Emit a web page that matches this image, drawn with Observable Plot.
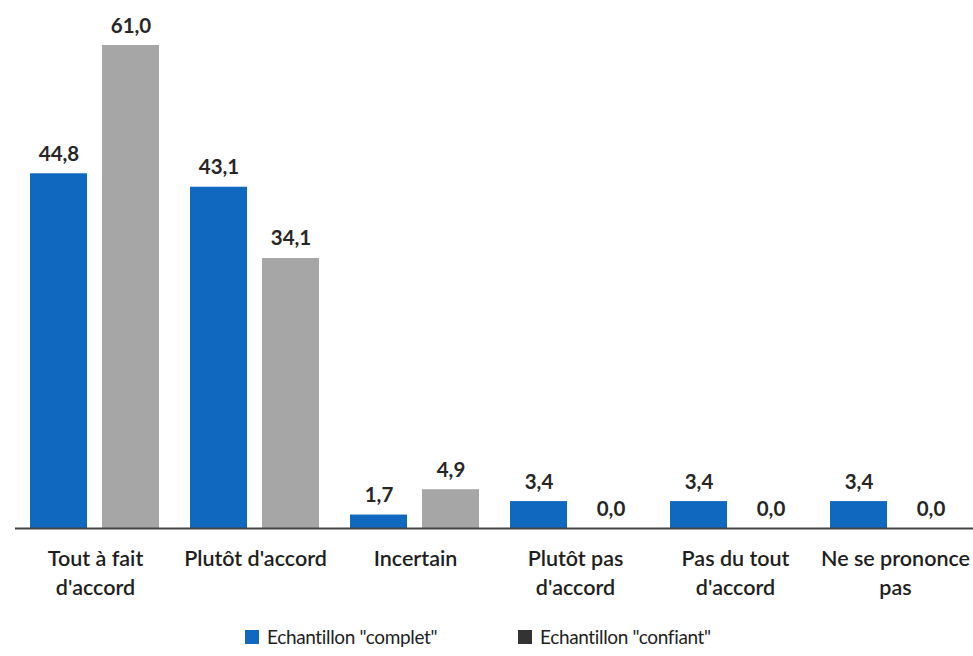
<!DOCTYPE html>
<html>
<head>
<meta charset="utf-8">
<script src="https://cdn.jsdelivr.net/npm/d3@7"></script>
<script src="https://cdn.jsdelivr.net/npm/@observablehq/plot@0.6"></script>
<style>
  html, body { margin: 0; padding: 0; background: #fff; overflow: hidden; }
  #chart { position: relative; width: 973px; height: 656px; font-family: Lato, "Open Sans", sans-serif; }
  .legend { position: absolute; top: 626px; left: 245px; font-size: 19px; letter-spacing: -0.35px; color: #1e1e1e; line-height: 22px; }
  .legend span.item { position: absolute; display: inline-flex; align-items: center; white-space: nowrap; }
  .legend i { display: inline-block; width: 14px; height: 14px; margin-right: 8px; }
</style>
</head>
<body>
<div id="chart"></div>
<script>
// Réponses par catégorie, en pourcentage
const categories = ["Tout à fait d'accord", "Plutôt d'accord", "Incertain", "Plutôt pas d'accord", "Pas du tout d'accord", "Ne se prononce pas"];
const categoryLabels = ["Tout à fait\nd'accord", "Plutôt d'accord", "Incertain", "Plutôt pas\nd'accord", "Pas du tout\nd'accord", "Ne se prononce\npas"];
const series = ["Echantillon \"complet\"", "Echantillon \"confiant\""];
const complet = [44.8, 43.1, 1.7, 3.4, 3.4, 3.4];
const confiant = [61.0, 34.1, 4.9, 0.0, 0.0, 0.0];
const colors = ["#1068bf", "#a6a6a6"];

const rows = categories.flatMap((c, i) => [
  {category: c, serie: series[0], value: complet[i]},
  {category: c, serie: series[1], value: confiant[i]}
]);

const fmt = v => v.toFixed(1).replace(".", ",");
const labelOf = new Map(categories.map((c, i) => [c, categoryLabels[i]]));

const plot = Plot.plot({
  width: 973,
  height: 610,
  marginTop: 45,
  marginBottom: 82,
  marginLeft: 8,
  marginRight: 0,
  style: {fontFamily: "Lato, 'Open Sans', sans-serif"},
  fx: {domain: categories, range: [13, 977], padding: 0, label: null, axis: null},
  x: {domain: series, padding: 0.205, axis: null},
  y: {domain: [0, 61], axis: null},
  color: {domain: series, range: colors},
  marks: [
    Plot.barY(rows, {fx: "category", x: "serie", y: "value", fill: "serie"}),
    Plot.text(rows, {
      fx: "category", x: "serie", y: "value", text: d => fmt(d.value),
      dy: -13, lineAnchor: "bottom", fontSize: 20.5, fontWeight: "bold", fill: "#262626"
    }),
    Plot.axisFx({
      anchor: "bottom", tickSize: 0, tickPadding: 16, fontSize: 21.5, fontWeight: 600,
      tickFormat: c => labelOf.get(c), lineHeight: 1.38, fill: "#1e1e1e", label: null
    }),
    Plot.ruleY([0], {facetAnchor: null, stroke: "#444", strokeWidth: 1.8})
  ]
});

const root = document.getElementById("chart");
root.appendChild(plot);

// Légende des deux échantillons
const legend = document.createElement("div");
legend.className = "legend";
const legendX = [0, 273];
series.forEach((s, i) => {
  const item = document.createElement("span");
  item.className = "item";
  item.style.left = legendX[i] + "px";
  const sw = document.createElement("i");
  sw.style.background = i === 0 ? colors[0] : "#333";
  item.appendChild(sw);
  item.appendChild(document.createTextNode(s));
  legend.appendChild(item);
});
root.appendChild(legend);
</script>
</body>
</html>
